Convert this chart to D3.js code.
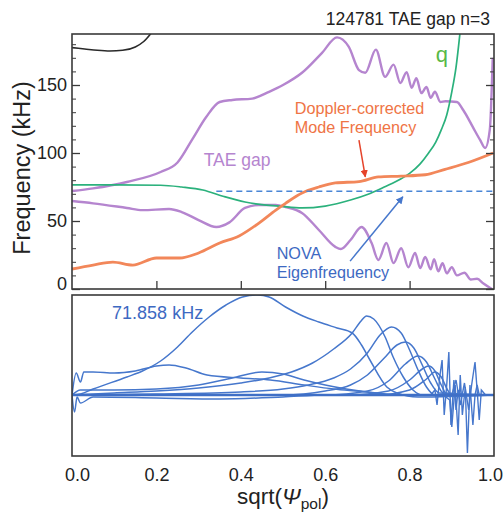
<!DOCTYPE html>
<html><head><meta charset="utf-8">
<script src="https://cdn.jsdelivr.net/npm/d3@7"></script>
<style>
body{margin:0;background:#fff;}
text{font-family:"Liberation Sans",Arial,Helvetica,sans-serif;}
</style></head>
<body><svg id="c" width="503" height="517"></svg>
<script>
// ---------- DATA ----------
const yTicksMajor = [0, 50, 100, 150];
const xTickLabels = [0, 0.2, 0.4, 0.6, 0.8, 1.0];
const novaFreq = 71.858;
const novaStart = 0.342;

const blackS = [0, 0.03, 0.06, 0.09, 0.12, 0.15, 0.17, 0.19];
const blackF = [177.5, 176.5, 175.5, 175, 175.5, 178, 182, 189];

const qS = [0, 0.1, 0.21, 0.26, 0.31, 0.36, 0.41, 0.45, 0.49, 0.545, 0.6, 0.66, 0.7, 0.74, 0.78, 0.8, 0.825, 0.845, 0.862, 0.875, 0.888, 0.9, 0.91, 0.92];
const qF = [76.5, 76.5, 76.3, 75, 72.8, 68, 64, 62, 61, 59.6, 61, 65.4, 69.5, 75, 81, 85, 92, 100, 108, 117, 128, 145, 163, 190];

const gapUpS = [0, 0.05, 0.13, 0.21, 0.25, 0.285, 0.318, 0.35, 0.38, 0.427, 0.467, 0.5, 0.545, 0.592, 0.628, 0.656, 0.68, 0.695, 0.72, 0.742, 0.762, 0.778, 0.793, 0.805, 0.816, 0.828, 0.84, 0.85, 0.86, 0.873, 0.885, 0.912, 0.927, 0.95, 0.967, 0.979, 0.99, 0.997];
const gapUpF = [72, 74, 78.7, 86, 93, 110, 126.5, 137.5, 139, 140, 145, 150, 159, 173.5, 185, 178, 161, 159, 176, 156, 165, 151.5, 159.5, 148, 155, 144, 148.5, 140.5, 145, 137.5, 138, 137.5, 131.6, 119, 109.6, 103.7, 117, 170];

const gapLoS = [0, 0.05, 0.13, 0.167, 0.23, 0.26, 0.3, 0.342, 0.373, 0.41, 0.443, 0.483, 0.506, 0.545, 0.585, 0.624, 0.637, 0.66, 0.686, 0.71, 0.726, 0.745, 0.762, 0.78, 0.797, 0.813, 0.825, 0.837, 0.85, 0.858, 0.868, 0.878, 0.888, 0.9, 0.912, 0.93, 0.945, 0.96, 0.975, 0.995];
const gapLoF = [64.7, 63, 59.6, 58, 58.8, 56.6, 50.7, 45.6, 49, 59.6, 61.8, 61.8, 60.3, 55.9, 43.4, 31, 29.4, 36, 45.6, 33.8, 21.3, 33.8, 19, 30, 16, 26.5, 15.4, 23.5, 14.5, 22, 13, 19, 11.5, 16, 10, 12, 7, 7.5, 4, 0];

const modeS = [0, 0.05, 0.097, 0.144, 0.2, 0.255, 0.3, 0.35, 0.396, 0.443, 0.483, 0.506, 0.545, 0.585, 0.624, 0.68, 0.726, 0.78, 0.837, 0.884, 0.939, 0.998];
const modeF = [14.7, 17.6, 19.8, 17.6, 22.8, 22.8, 26.5, 33.8, 39, 48.5, 58, 63, 70.6, 75, 78, 79, 82.4, 83, 84, 88, 93, 100];

// eigenmode structures (bottom panel), [sqrt(psi), amplitude]
const eig1 = [[0,0],[0.02,0.01],[0.05,0.06],[0.13,0.18],[0.167,0.24],[0.21,0.34],[0.25,0.48],[0.285,0.63],[0.325,0.78],[0.365,0.9],[0.404,0.98],[0.44,1.0],[0.467,0.98],[0.506,0.88],[0.547,0.79],[0.585,0.73],[0.628,0.67],[0.664,0.62],[0.686,0.5],[0.706,0.35],[0.746,0.08],[0.77,0.02],[0.82,-0.02],[1,0]];
const eig2 = [[0,0],[0.1,0.02],[0.2,0.04],[0.3,0.07],[0.4,0.12],[0.467,0.17],[0.52,0.23],[0.57,0.32],[0.62,0.46],[0.664,0.62],[0.685,0.74],[0.698,0.79],[0.715,0.76],[0.742,0.58],[0.761,0.38],[0.785,0.18],[0.808,0.05],[0.83,0],[1,0]];
const eig3 = [[0,0],[0.2,0.01],[0.4,0.03],[0.5,0.06],[0.56,0.1],[0.62,0.17],[0.66,0.26],[0.7,0.42],[0.73,0.6],[0.757,0.68],[0.78,0.62],[0.8,0.45],[0.82,0.25],[0.84,0.08],[0.86,0],[1,0]];
const eig4 = [[0,0],[0.5,0],[0.6,0.04],[0.66,0.1],[0.7,0.2],[0.74,0.37],[0.77,0.5],[0.79,0.53],[0.81,0.47],[0.83,0.3],[0.85,0.12],[0.87,0.02],[1,0]];
const eig5 = [[0,0],[0.6,0],[0.7,0.04],[0.75,0.14],[0.79,0.31],[0.82,0.39],[0.84,0.33],[0.86,0.16],[0.88,0.02],[1,0]];
const eig6 = [[0,0],[0.65,0],[0.75,0.04],[0.8,0.15],[0.83,0.26],[0.845,0.29],[0.86,0.24],[0.875,0.1],[0.89,0],[1,0]];
const eig7 = [[0,0],[0.72,0],[0.8,0.05],[0.84,0.16],[0.86,0.23],[0.875,0.18],[0.89,0.05],[0.9,0],[1,0]];
const eigA = [[0,0],[0.01,0.22],[0.02,0.13],[0.028,0.23],[0.05,0.23],[0.1,0.22],[0.15,0.24],[0.2,0.29],[0.23,0.3],[0.27,0.27],[0.32,0.2],[0.4,0.17],[0.47,0.15],[0.55,0.1],[0.62,0.06],[0.7,0.03],[0.75,0],[1,0]];
const eigB = [[0,0],[0.02,0.05],[0.1,0.05],[0.2,0.06],[0.3,0.1],[0.38,0.17],[0.45,0.23],[0.5,0.21],[0.55,0.15],[0.6,0.1],[0.65,0.06],[0.7,0.03],[0.78,0],[1,0]];
const eigD = [[0,0],[0.006,-0.17],[0.012,-0.02],[0.02,-0.08],[0.05,-0.02],[0.2,-0.03],[0.35,-0.04],[0.5,-0.02],[0.6,0],[1,0]];
const spike1 = [[0,0],[0.85,0],[0.86,0.05],[0.865,-0.1],[0.872,0.2],[0.877,0.35],[0.882,-0.2],[0.888,0.1],[0.893,0.43],[0.898,-0.3],[0.905,0.15],[0.91,-0.15],[0.915,0.05],[0.92,0],[1,0]];
const spike2 = [[0,0],[0.88,0],[0.895,-0.05],[0.9,-0.32],[0.908,0.1],[0.915,-0.4],[0.92,0.2],[0.925,-0.2],[0.932,0.08],[0.937,-0.58],[0.943,0.1],[0.95,-0.3],[0.955,0],[0.96,0.1],[0.965,0],[1,0]];
const spike3 = [[0,0],[0.9,0],[0.91,0.15],[0.92,-0.1],[0.93,0.12],[0.94,-0.15],[0.947,0.1],[0.955,0.33],[0.96,0.05],[0.965,-0.25],[0.97,0.05],[0.98,0],[1,0]];

// ---------- LAYOUT ----------
const svg = d3.select("#c");
const x = d3.scaleLinear([0, 1], [72, 494]);
const yT = d3.scaleLinear([0, 187.5], [289, 34]);
const yB = d3.scaleLinear([-0.61, 1.0], [456, 295]);

const C = {purple:"#b585cf", green:"#2bb17c", qtext:"#58b947", orange:"#f2875a", otext:"#ef7445", red:"#e5432a", blue:"#4677cc", btext:"#3d69c2", frame:"#3a3a3a"};

svg.append("defs").append("clipPath").attr("id","clipT").append("rect")
  .attr("x",x(0)).attr("y",yT(187.5)).attr("width",x(1)-x(0)).attr("height",yT(0)-yT(187.5));
svg.select("defs").append("clipPath").attr("id","clipB").append("rect")
  .attr("x",x(0)).attr("y",yB(1.0)).attr("width",x(1)-x(0)).attr("height",yB(-0.61)-yB(1.0));
const mk = (id,c)=>svg.select("defs").append("marker").attr("id",id).attr("viewBox","0 0 10 10")
  .attr("refX",9).attr("refY",5).attr("markerWidth",5).attr("markerHeight",5).attr("orient","auto")
  .append("path").attr("d","M0,0L10,5L0,10z").attr("fill",c);
mk("arrR",C.red); mk("arrB",C.blue);

// title
svg.append("text").attr("x",490).attr("y",25).attr("text-anchor","end").attr("font-size",17.5).attr("fill","#222").text("124781 TAE gap n=3");

// ---------- TOP PANEL ----------
const gT = svg.append("g").attr("clip-path","url(#clipT)");
const lineT = d3.line().x(d=>x(d[0])).y(d=>yT(d[1])).curve(d3.curveMonotoneX);
const zip = (a,b)=>a.map((v,i)=>[v,b[i]]);

gT.append("path").attr("d",lineT(zip(blackS,blackF))).attr("fill","none").attr("stroke","#2a2a2a").attr("stroke-width",1.6);
gT.append("path").attr("d",lineT(zip(gapUpS,gapUpF))).attr("fill","none").attr("stroke",C.purple).attr("stroke-width",2.4);
gT.append("path").attr("d",lineT(zip(gapLoS,gapLoF))).attr("fill","none").attr("stroke",C.purple).attr("stroke-width",2.4);
gT.append("path").attr("d",lineT(zip(qS,qF))).attr("fill","none").attr("stroke",C.green).attr("stroke-width",1.7);
gT.append("path").attr("d",lineT(zip(modeS,modeF))).attr("fill","none").attr("stroke",C.orange).attr("stroke-width",2.8);
gT.append("line").attr("x1",x(novaStart)).attr("x2",x(1)).attr("y1",yT(novaFreq)).attr("y2",yT(novaFreq))
  .attr("stroke","#4a86d6").attr("stroke-width",1.7).attr("stroke-dasharray","6,4");

// axes of top panel
const minor = d3.range(10,187,10).filter(v=>v%50!==0);
const axL = svg.append("g").attr("transform",`translate(${x(0)},0)`)
  .call(d3.axisLeft(yT).tickValues(yTicksMajor).tickSize(-8).tickPadding(5));
axL.select(".domain").remove();
axL.selectAll("text").attr("font-size",18).attr("fill","#222").attr("font-family",null)
  .attr("dy",d=>d===0?"0.0em":"0.32em");
axL.selectAll("line").attr("stroke",C.frame).attr("stroke-width",1.3);
const axLm = svg.append("g").attr("transform",`translate(${x(0)},0)`)
  .call(d3.axisLeft(yT).tickValues(minor).tickSize(-4).tickFormat(""));
axLm.select(".domain").remove(); axLm.selectAll("line").attr("stroke",C.frame);
const axR = svg.append("g").attr("transform",`translate(${x(1)},0)`)
  .call(d3.axisRight(yT).tickValues(yTicksMajor).tickSize(-8).tickFormat(""));
axR.select(".domain").remove(); axR.selectAll("line").attr("stroke",C.frame).attr("stroke-width",1.3);
const axRm = svg.append("g").attr("transform",`translate(${x(1)},0)`)
  .call(d3.axisRight(yT).tickValues(minor).tickSize(-4).tickFormat(""));
axRm.select(".domain").remove(); axRm.selectAll("line").attr("stroke",C.frame);
const axBT = svg.append("g").attr("transform",`translate(0,${yT(0)})`)
  .call(d3.axisBottom(x).tickValues([0.2,0.4,0.6,0.8]).tickSize(-8).tickFormat(""));
axBT.select(".domain").remove(); axBT.selectAll("line").attr("stroke",C.frame).attr("stroke-width",1.3);

svg.append("rect").attr("x",x(0)).attr("y",yT(187.5)).attr("width",x(1)-x(0)).attr("height",yT(0)-yT(187.5))
  .attr("fill","none").attr("stroke",C.frame).attr("stroke-width",1.6);

// annotations top
svg.append("text").attr("x",x(0.312)).attr("y",yT(90.5)).attr("font-size",17.5).attr("fill",C.purple).text("TAE gap");
svg.append("text").attr("x",x(0.862)).attr("y",yT(167)).attr("font-size",22).attr("fill",C.qtext).text("q");
svg.append("text").attr("x",x(0.528)).attr("y",yT(128.5)).attr("font-size",16.2).attr("fill",C.otext).text("Doppler-corrected");
svg.append("text").attr("x",x(0.528)).attr("y",yT(114.9)).attr("font-size",16.2).attr("fill",C.otext).text("Mode Frequency");
svg.append("text").attr("x",x(0.485)).attr("y",yT(21.9)).attr("font-size",16.2).attr("fill",C.btext).text("NOVA");
svg.append("text").attr("x",x(0.485)).attr("y",yT(8.2)).attr("font-size",16.2).attr("fill",C.btext).text("Eigenfrequency");
svg.append("line").attr("x1",x(0.68)).attr("y1",yT(109.5)).attr("x2",x(0.695)).attr("y2",yT(82.5))
  .attr("stroke",C.red).attr("stroke-width",1.5).attr("marker-end","url(#arrR)");
svg.append("line").attr("x1",x(0.659)).attr("y1",yT(20.5)).attr("x2",x(0.784)).attr("y2",yT(67.8))
  .attr("stroke",C.blue).attr("stroke-width",1.5).attr("marker-end","url(#arrB)");

// y label
svg.append("text").attr("transform",`translate(30,${yT(89)}) rotate(-90)`).attr("text-anchor","middle")
  .attr("font-size",23.5).attr("fill","#222").text("Frequency (kHz)");

// ---------- BOTTOM PANEL ----------
const gB = svg.append("g").attr("clip-path","url(#clipB)");
const lineB = d3.line().x(d=>x(d[0])).y(d=>yB(d[1])).curve(d3.curveMonotoneX);
const lineBL = d3.line().x(d=>x(d[0])).y(d=>yB(d[1]));
[eigD, eigB, eigA, eig7, eig6, eig5, eig4, eig3, eig2, eig1].forEach(s=>{
  gB.append("path").attr("d",lineB(s)).attr("fill","none").attr("stroke",C.blue).attr("stroke-width",1.5);
});
[spike1, spike2, spike3].forEach(s=>{
  gB.append("path").attr("d",lineBL(s)).attr("fill","none").attr("stroke",C.blue).attr("stroke-width",1.4);
});
gB.append("line").attr("x1",x(0)).attr("x2",x(1)).attr("y1",yB(0)).attr("y2",yB(0)).attr("stroke","#3f6fc6").attr("stroke-width",2.6);

svg.append("rect").attr("x",x(0)).attr("y",yB(1.0)).attr("width",x(1)-x(0)).attr("height",yB(-0.61)-yB(1.0))
  .attr("fill","none").attr("stroke",C.frame).attr("stroke-width",1.6);
svg.append("text").attr("x",x(0.095)).attr("y",yB(0.76)).attr("font-size",18).attr("fill",C.btext).text(novaFreq.toFixed(3)+" kHz");

// x axis labels
const axX = svg.append("g").attr("transform",`translate(0,${yB(-0.61)})`)
  .call(d3.axisBottom(x).tickValues(xTickLabels).tickSize(0).tickPadding(12).tickFormat(d3.format(".1f")));
axX.select(".domain").remove();
axX.selectAll("text").attr("font-size",18).attr("fill","#222").attr("font-family",null)
  .attr("dx",d=>d===0?5:(d===1?-4:0));

const xl = svg.append("text").attr("x",x(0.5)).attr("y",504).attr("text-anchor","middle").attr("font-size",22.5).attr("fill","#222");
xl.append("tspan").text("sqrt(");
xl.append("tspan").attr("font-style","italic").text("Ψ");
xl.append("tspan").attr("font-size",15.5).attr("dy",5).text("pol");
xl.append("tspan").attr("dy",-5).text(")");
</script></body></html>
